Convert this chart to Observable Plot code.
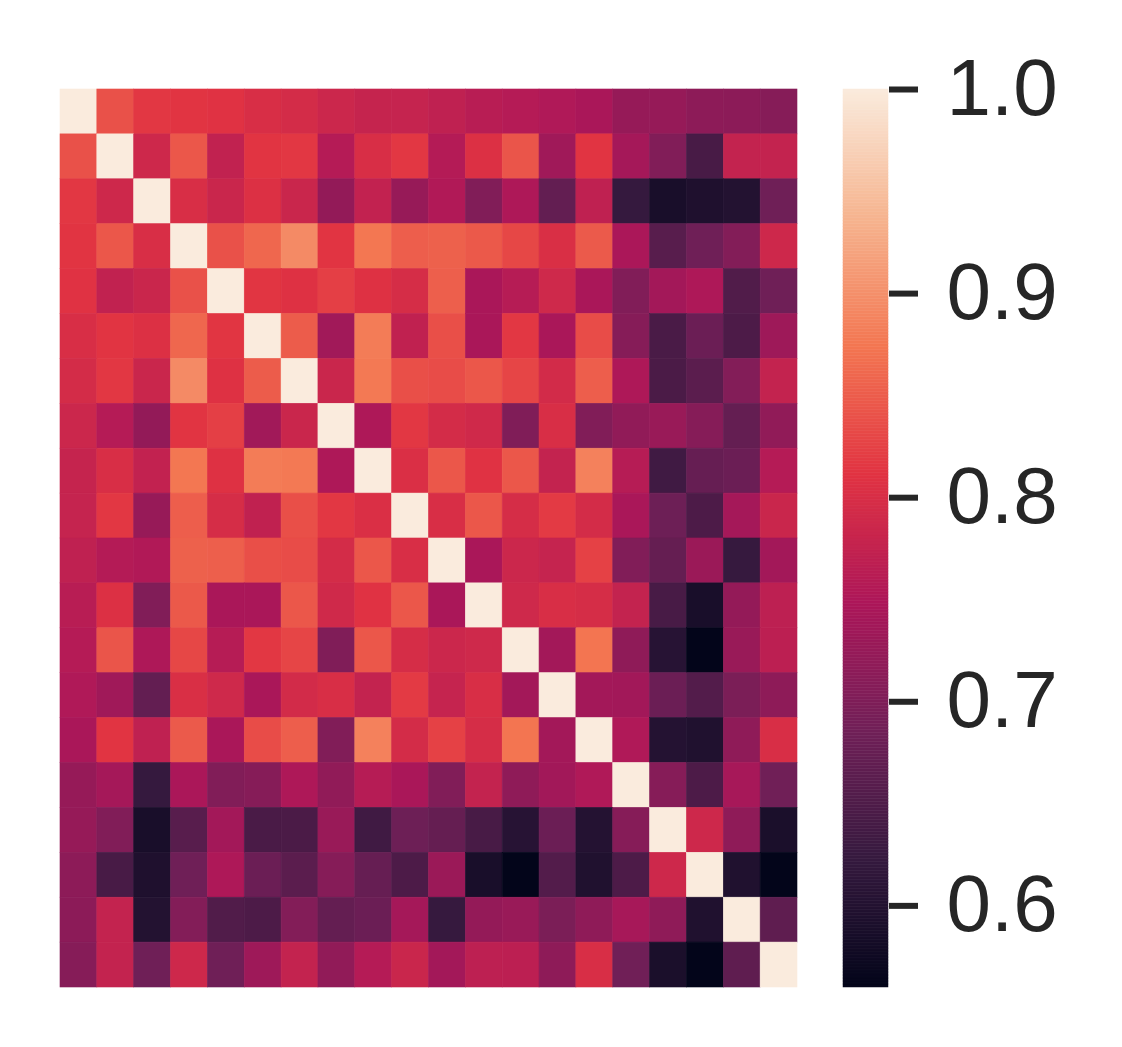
<!DOCTYPE html>
<html>
<head>
<meta charset="utf-8">
<script src="https://cdn.jsdelivr.net/npm/d3@7"></script>
<script src="https://cdn.jsdelivr.net/npm/@observablehq/plot@0.6"></script>
<style>
  html, body { margin: 0; padding: 0; background: #ffffff; }
  #wrap { position: relative; width: 1122px; height: 1047px; font-family: "Liberation Sans", Arial, sans-serif; }
  #heat { position: absolute; left: 0; top: 0; }
  #bar { position: absolute; left: 820px; top: 0; }
</style>
</head>
<body>
<div id="wrap"><div id="heat"></div><div id="bar"></div></div>
<script>
// variable indices (no tick labels shown in the reference)
const variables = [0,1,2,3,4,5,6,7,8,9,10,11,12,13,14,15,16,17,18,19];

// correlation matrix rows
const row0  = [1.000,0.840,0.815,0.812,0.810,0.800,0.795,0.785,0.778,0.777,0.770,0.762,0.758,0.752,0.745,0.725,0.725,0.716,0.715,0.708];
const row1  = [0.840,1.000,0.787,0.845,0.773,0.812,0.815,0.758,0.800,0.815,0.757,0.805,0.843,0.735,0.812,0.740,0.703,0.643,0.775,0.775];
const row2  = [0.815,0.787,1.000,0.800,0.783,0.805,0.783,0.722,0.774,0.726,0.753,0.703,0.750,0.672,0.770,0.623,0.588,0.595,0.600,0.685];
const row3  = [0.812,0.845,0.800,1.000,0.840,0.860,0.895,0.812,0.875,0.852,0.855,0.847,0.830,0.802,0.848,0.747,0.660,0.685,0.705,0.787];
const row4  = [0.810,0.773,0.783,0.840,1.000,0.813,0.808,0.823,0.808,0.797,0.853,0.745,0.760,0.788,0.745,0.703,0.738,0.750,0.653,0.685];
const row5  = [0.800,0.812,0.805,0.860,0.813,1.000,0.850,0.736,0.880,0.772,0.838,0.745,0.815,0.745,0.835,0.708,0.645,0.680,0.648,0.733];
const row6  = [0.795,0.815,0.783,0.895,0.808,0.850,1.000,0.783,0.877,0.838,0.835,0.845,0.828,0.793,0.852,0.750,0.646,0.663,0.705,0.775];
const row7  = [0.785,0.758,0.722,0.812,0.823,0.736,0.783,1.000,0.750,0.815,0.795,0.790,0.702,0.800,0.703,0.720,0.728,0.708,0.673,0.720];
const row8  = [0.778,0.800,0.774,0.875,0.808,0.880,0.877,0.750,1.000,0.803,0.845,0.810,0.845,0.775,0.885,0.760,0.635,0.675,0.680,0.758];
const row9  = [0.777,0.815,0.726,0.852,0.797,0.772,0.838,0.815,0.803,1.000,0.800,0.845,0.797,0.818,0.795,0.745,0.682,0.648,0.740,0.783];
const row10 = [0.770,0.757,0.753,0.855,0.853,0.838,0.835,0.795,0.845,0.800,1.000,0.745,0.785,0.777,0.825,0.703,0.674,0.730,0.624,0.738];
const row11 = [0.762,0.805,0.703,0.847,0.745,0.745,0.845,0.790,0.810,0.845,0.745,1.000,0.788,0.800,0.797,0.775,0.643,0.588,0.723,0.768];
const row12 = [0.758,0.843,0.750,0.830,0.760,0.815,0.828,0.702,0.845,0.797,0.785,0.788,1.000,0.738,0.873,0.718,0.605,0.560,0.728,0.767];
const row13 = [0.752,0.735,0.672,0.802,0.788,0.745,0.793,0.800,0.775,0.818,0.777,0.800,0.738,1.000,0.738,0.737,0.680,0.655,0.697,0.717];
const row14 = [0.745,0.812,0.770,0.848,0.745,0.835,0.852,0.703,0.885,0.795,0.825,0.797,0.873,0.738,1.000,0.752,0.602,0.597,0.718,0.800];
const row15 = [0.725,0.740,0.623,0.747,0.703,0.708,0.750,0.720,0.760,0.745,0.703,0.775,0.718,0.737,0.752,1.000,0.708,0.648,0.742,0.686];
const row16 = [0.725,0.703,0.588,0.660,0.738,0.645,0.646,0.728,0.635,0.682,0.674,0.643,0.605,0.680,0.602,0.708,1.000,0.787,0.718,0.590];
const row17 = [0.716,0.643,0.595,0.685,0.750,0.680,0.663,0.708,0.675,0.648,0.730,0.588,0.560,0.655,0.597,0.648,0.787,1.000,0.597,0.560];
const row18 = [0.715,0.775,0.600,0.705,0.653,0.648,0.705,0.673,0.680,0.740,0.624,0.723,0.728,0.697,0.718,0.742,0.718,0.597,1.000,0.668];
const row19 = [0.708,0.775,0.685,0.787,0.685,0.733,0.775,0.720,0.758,0.783,0.738,0.768,0.767,0.717,0.800,0.686,0.590,0.560,0.668,1.000];

// colour bar ticks and range
const colorTicks = [0.6, 0.7, 0.8, 0.9, 1.0];
const colorDomain = [0.56, 1.0];
// seaborn "rocket" colormap stops
const rocketStops = ["#03051A","#35193E","#701F57","#AD1759","#E13342","#F37651","#F6B48F","#FAEBDD"];

const rows = [row0,row1,row2,row3,row4,row5,row6,row7,row8,row9,row10,row11,row12,row13,row14,row15,row16,row17,row18,row19];
const cells = [];
rows.forEach((r, i) => r.forEach((v, j) => cells.push({row: variables[i], col: variables[j], value: v})));

const rocket = d3.piecewise(d3.interpolateRgb, rocketStops);
const colorScale = {type: "linear", domain: colorDomain, interpolate: () => rocket, clamp: true};

const heat = Plot.plot({
  width: 820, height: 1047,
  marginLeft: 60, marginRight: 23, marginTop: 89, marginBottom: 60,
  x: {type: "band", domain: variables, padding: 0, round: false, axis: null},
  y: {type: "band", domain: variables, padding: 0, round: false, axis: null},
  color: colorScale,
  marks: [
    Plot.cell(cells, {x: "col", y: "row", fill: "value", stroke: "value", strokeWidth: 0.6})
  ]
});
document.getElementById("heat").appendChild(heat);

// colour bar slices
const nSlices = 300;
const slices = d3.range(nSlices).map(k => {
  const a = colorDomain[0] + (colorDomain[1] - colorDomain[0]) * k / nSlices;
  const b = colorDomain[0] + (colorDomain[1] - colorDomain[0]) * (k + 1) / nSlices;
  return {y1: a, y2: b, v: (a + b) / 2};
});

const bar = Plot.plot({
  width: 302, height: 1047,
  marginLeft: 23, marginRight: 234, marginTop: 89, marginBottom: 60,
  x: {domain: [0, 1], axis: null},
  y: {domain: colorDomain, axis: null},
  color: colorScale,
  style: {fontFamily: "'Liberation Sans', Arial, sans-serif", color: "#262626", background: "transparent"},
  marks: [
    Plot.rect(slices, {x1: 0, x2: 1, y1: "y1", y2: "y2", fill: "v", stroke: "v", strokeWidth: 0.5}),
    Plot.axisY({anchor: "right", ticks: colorTicks, tickFormat: d3.format(".1f"),
      tickSize: 29, tickPadding: 29, strokeWidth: 6, stroke: "#262626", fill: "#262626",
      fontSize: 80, label: null})
  ]
});
document.getElementById("bar").appendChild(bar);
</script>
</body>
</html>
